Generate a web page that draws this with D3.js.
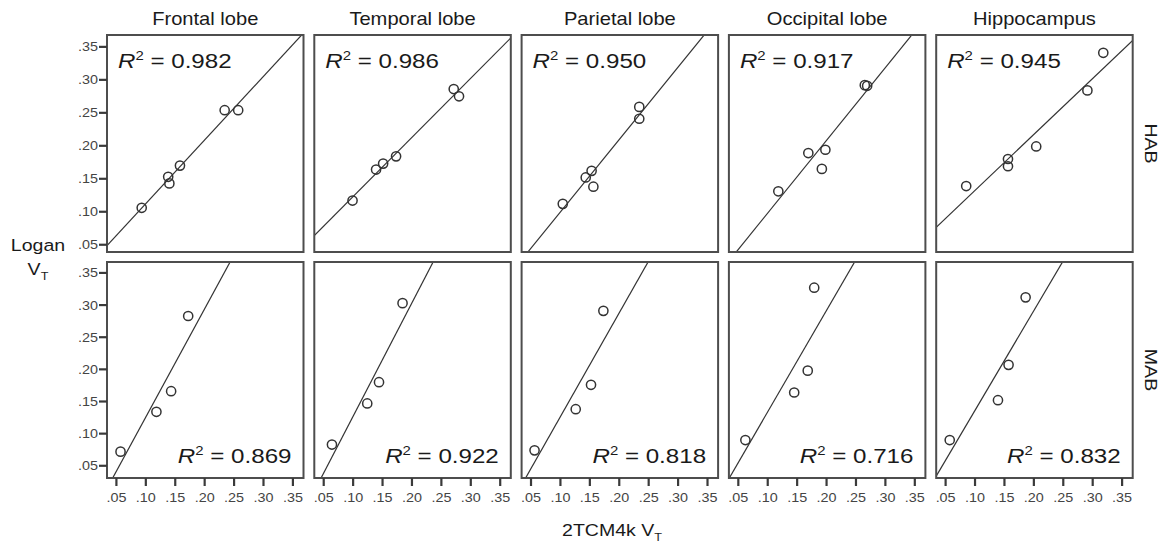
<!DOCTYPE html>
<html>
<head>
<meta charset="utf-8">
<script src="https://cdn.jsdelivr.net/npm/d3@7"></script>
<style>
  body { margin: 0; background: #fff; }
  svg { display: block; font-family: "Liberation Sans", Arial, sans-serif; }
</style>
</head>
<body>
<svg id="chart"></svg>
<script>
var width = 1166
var height = 546

// chart values
var regions = ["Frontal lobe", "Temporal lobe", "Parietal lobe", "Occipital lobe", "Hippocampus"]
var groups = ["HAB", "MAB"]
var r2HAB = ["0.982", "0.986", "0.950", "0.917", "0.945"]
var r2MAB = ["0.869", "0.922", "0.818", "0.716", "0.832"]
var tickValues = [0.05, 0.10, 0.15, 0.20, 0.25, 0.30, 0.35]
var tickLabels = [".05", ".10", ".15", ".20", ".25", ".30", ".35"]

// HAB (2TCM4k VT, Logan VT)
var habFrontalX = [0.093, 0.138, 0.140, 0.158, 0.234, 0.257]
var habFrontalY = [0.106, 0.153, 0.143, 0.170, 0.254, 0.254]
var habTemporalX = [0.099, 0.139, 0.151, 0.173, 0.271, 0.280]
var habTemporalY = [0.117, 0.164, 0.173, 0.184, 0.286, 0.275]
var habParietalX = [0.104, 0.143, 0.153, 0.156, 0.234, 0.234]
var habParietalY = [0.112, 0.152, 0.162, 0.138, 0.259, 0.241]
var habOccipitalX = [0.118, 0.169, 0.198, 0.192, 0.265, 0.269]
var habOccipitalY = [0.131, 0.189, 0.194, 0.165, 0.292, 0.291]
var habHippoX = [0.085, 0.156, 0.156, 0.204, 0.291, 0.318]
var habHippoY = [0.139, 0.180, 0.169, 0.199, 0.284, 0.341]

// MAB
var mabFrontalX = [0.057, 0.118, 0.143, 0.172]
var mabFrontalY = [0.072, 0.134, 0.166, 0.283]
var mabTemporalX = [0.064, 0.124, 0.144, 0.184]
var mabTemporalY = [0.083, 0.147, 0.180, 0.303]
var mabParietalX = [0.056, 0.126, 0.152, 0.173]
var mabParietalY = [0.074, 0.138, 0.176, 0.291]
var mabOccipitalX = [0.062, 0.145, 0.168, 0.179]
var mabOccipitalY = [0.090, 0.164, 0.198, 0.327]
var mabHippoX = [0.057, 0.139, 0.157, 0.186]
var mabHippoY = [0.090, 0.152, 0.207, 0.312]

var habX = [habFrontalX, habTemporalX, habParietalX, habOccipitalX, habHippoX]
var habY = [habFrontalY, habTemporalY, habParietalY, habOccipitalY, habHippoY]
var mabX = [mabFrontalX, mabTemporalX, mabParietalX, mabOccipitalX, mabHippoX]
var mabY = [mabFrontalY, mabTemporalY, mabParietalY, mabOccipitalY, mabHippoY]

// layout
var panelLeft = 107, panelPitch = 207.3, panelW = 196.5
var rowTop = [35, 262], panelH = [217, 216]
var yDomains = [[0.039, 0.368], [0.031, 0.367]]
var stretch = 1.15  // reference text is a little wider than Liberation Sans

var svg = d3.select("#chart")
    .attr("width", width)
    .attr("height", height)

function label(parent, x, y, str, size, anchor, color) {
    return parent.append("text")
        .attr("transform", "translate(" + x + "," + y + ") scale(" + stretch + ",1)")
        .attr("text-anchor", anchor || "middle")
        .attr("fill", color || "#1a1a1a")
        .attr("font-size", size)
        .text(str)
}

function fit(xs, ys) {
    var mx = d3.mean(xs), my = d3.mean(ys)
    var sxy = d3.sum(xs, (x, i) => (x - mx) * (ys[i] - my))
    var sxx = d3.sum(xs, x => (x - mx) * (x - mx))
    var b = sxy / sxx
    return { b: b, a: my - b * mx }
}

groups.forEach(function(group, r) {
    var top = rowTop[r], h = panelH[r]
    var y = d3.scaleLinear().domain(yDomains[r]).range([top + h, top])
    var xsAll = r == 0 ? habX : mabX
    var ysAll = r == 0 ? habY : mabY
    var r2 = r == 0 ? r2HAB : r2MAB

    regions.forEach(function(region, c) {
        var left = panelLeft + c * panelPitch
        var x = d3.scaleLinear().domain([0.034, 0.368]).range([left, left + panelW])
        var g = svg.append("g")
        var clipId = "clip-" + r + "-" + c

        svg.append("clipPath").attr("id", clipId)
            .append("rect")
            .attr("x", left).attr("y", top)
            .attr("width", panelW).attr("height", h)

        var pts = xsAll[c].map((v, i) => [v, ysAll[c][i]])
        var f = fit(xsAll[c], ysAll[c])
        var x0 = x.domain()[0], x1 = x.domain()[1]

        // least squares line, clipped to the panel
        g.append("line")
            .attr("clip-path", "url(#" + clipId + ")")
            .attr("x1", x(x0)).attr("y1", y(f.a + f.b * x0))
            .attr("x2", x(x1)).attr("y2", y(f.a + f.b * x1))
            .attr("stroke", "#333")
            .attr("stroke-width", 1.2)

        g.selectAll("circle")
            .data(pts)
            .enter()
            .append("circle")
                .attr("cx", d => x(d[0]))
                .attr("cy", d => y(d[1]))
                .attr("r", 4.6)
                .attr("fill", "none")
                .attr("stroke", "#333")
                .attr("stroke-width", 1.5)

        g.append("rect")
            .attr("x", left).attr("y", top)
            .attr("width", panelW).attr("height", h)
            .attr("fill", "none")
            .attr("stroke", "#4d4d4d")
            .attr("stroke-width", 2)

        // R squared
        var t
        if (r == 0) t = label(g, left + 11, top + 33, "", 21, "start")
        else t = label(g, left + panelW - 12, top + h - 15, "", 21, "end")
        t.append("tspan").attr("font-style", "italic").text("R")
        t.append("tspan").attr("dy", -8).attr("font-size", 13).text("2")
        t.append("tspan").attr("dy", 8).text(" = " + r2[c])

        if (r == 0) label(svg, left + panelW / 2, 25, region, 17.5)

        if (c == 0) {
            svg.append("g").selectAll("line")
                .data(tickValues)
                .enter()
                .append("line")
                    .attr("x1", left - 8).attr("x2", left)
                    .attr("y1", d => y(d)).attr("y2", d => y(d))
                    .attr("stroke", "#3a3a3a")
                    .attr("stroke-width", 2.2)
            tickValues.forEach(function(v, i) {
                label(svg, left - 9, y(v) + 4.5, tickLabels[i], 12.5, "end", "#444")
            })
        }
        if (r == 1) {
            svg.append("g").selectAll("line")
                .data(tickValues)
                .enter()
                .append("line")
                    .attr("x1", d => x(d)).attr("x2", d => x(d))
                    .attr("y1", top + h).attr("y2", top + h + 8)
                    .attr("stroke", "#3a3a3a")
                    .attr("stroke-width", 2.2)
            tickValues.forEach(function(v, i) {
                label(svg, x(v), top + h + 24, tickLabels[i], 12.5, "middle", "#444")
            })
        }
    })

    // row label on the right
    svg.append("text")
        .attr("transform", "translate(1145," + (top + h / 2) + ") rotate(90) scale(" + stretch + ",1)")
        .attr("text-anchor", "middle")
        .attr("fill", "#1a1a1a")
        .attr("font-size", 17)
        .text(group)
})

// axis titles
label(svg, 38, 251, "Logan", 17)
var vt = label(svg, 38, 275, "V", 17)
vt.append("tspan").attr("dy", 5).attr("font-size", 11).text("T")

var xt = label(svg, 612, 536, "2TCM4k V", 17)
xt.append("tspan").attr("dy", 5).attr("font-size", 11).text("T")
</script>
</body>
</html>
